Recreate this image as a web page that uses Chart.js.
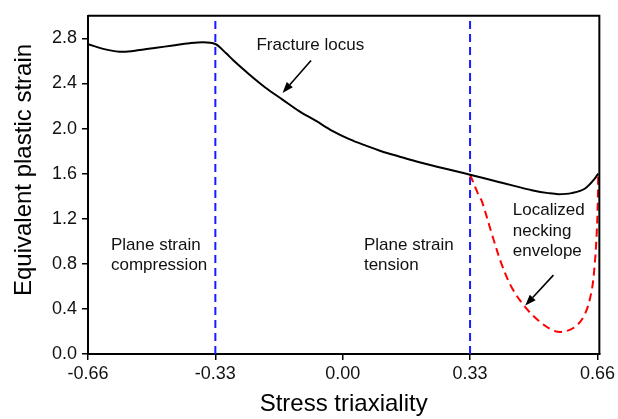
<!DOCTYPE html>
<html>
<head>
<meta charset="utf-8">
<script src="https://cdn.jsdelivr.net/npm/chart.js@4/dist/chart.umd.min.js"></script>
<style>
  html, body { margin: 0; padding: 0; background: #fff; }
  #wrap { width: 618px; height: 419px; }
</style>
</head>
<body>
<div id="wrap"><canvas id="c" width="618" height="419"></canvas></div>
<script>
// Fracture locus: equivalent plastic strain vs. stress triaxiality
const locusX = [-0.66, -0.612, -0.569, -0.526, -0.483, -0.44, -0.397, -0.362, -0.33, -0.302, -0.285,
                -0.242, -0.199, -0.156, -0.113, -0.069, -0.027, 0.017, 0.06, 0.102, 0.146, 0.189,
                0.232, 0.275, 0.33, 0.404, 0.447, 0.49, 0.533, 0.559, 0.593, 0.628, 0.653, 0.662];
const locusY = [2.748, 2.70, 2.68, 2.696, 2.716, 2.737, 2.757, 2.766, 2.75, 2.667, 2.61,
                2.48, 2.36, 2.257, 2.155, 2.067, 1.98, 1.906, 1.848, 1.796, 1.752, 1.71,
                1.672, 1.637, 1.59, 1.526, 1.489, 1.453, 1.427, 1.418, 1.427, 1.468, 1.555, 1.6];

// Localized necking envelope
const neckX = [0.33, 0.352, 0.361, 0.387, 0.412, 0.438, 0.473, 0.507, 0.541, 0.567, 0.602,
               0.628, 0.645, 0.653, 0.658, 0.661, 0.662];
const neckY = [1.59, 1.41, 1.351, 1.059, 0.795, 0.59, 0.415, 0.298, 0.216, 0.196, 0.24,
               0.357, 0.561, 0.795, 1.059, 1.351, 1.58];

// Plane strain compression / tension triaxialities
const planeStrainX = [-0.33, 0.33];
const markerSpan = [0, 3.0];

// Axis ticks
const xTicks = [-0.66, -0.33, 0, 0.33, 0.66];
const xTickLabels = ['-0.66', '-0.33', '0.00', '0.33', '0.66'];
const yTicks = [0, 0.4, 0.8, 1.2, 1.6, 2.0, 2.4, 2.8];
const yTickLabels = ['0.0', '0.4', '0.8', '1.2', '1.6', '2.0', '2.4', '2.8'];

const FONT = "'Liberation Sans', Arial, sans-serif";
const pairs = (xs, ys) => xs.map((x, i) => ({ x: x, y: ys[i] }));

const datasets = [
  {
    label: 'Fracture locus',
    data: pairs(locusX, locusY),
    borderColor: '#000',
    borderWidth: 2,
    pointRadius: 0,
    showLine: true,
    cubicInterpolationMode: 'monotone',
    clip: 4
  },
  {
    label: 'Localized necking envelope',
    data: pairs(neckX, neckY),
    borderColor: '#ff0000',
    borderWidth: 2,
    borderDash: [8, 5],
    pointRadius: 0,
    showLine: true,
    tension: 0.35,
    clip: 4
  }
];
planeStrainX.forEach(function (x) {
  datasets.push({
    label: 'Plane strain ' + x,
    data: markerSpan.map(function (y) { return { x: x, y: y }; }),
    borderColor: '#1a1aff',
    borderWidth: 2,
    borderDash: [8, 5],
    pointRadius: 0,
    showLine: true,
    clip: 2
  });
});

// Annotation texts and arrows, placed in data coordinates
const notes = [
  { lines: ['Fracture locus'], x: -0.084, y: 2.737, align: 'center' },
  { lines: ['Plane strain', 'compression'], x: -0.6006, y: 0.965, align: 'left' },
  { lines: ['Plane strain', 'tension'], x: 0.055, y: 0.965, align: 'left' },
  { lines: ['Localized', 'necking', 'envelope'], x: 0.4407, y: 1.272, align: 'left' }
];
const arrows = [
  { from: [-0.082, 2.603], to: [-0.156, 2.316] },
  { from: [0.546, 0.70], to: [0.473, 0.43] }
];

const decor = {
  id: 'decor',
  afterDatasetsDraw(chart) {
    const ctx = chart.ctx;
    const a = chart.chartArea;
    const xs = chart.scales.x, ys = chart.scales.y;
    ctx.save();
    // top and right frame
    ctx.strokeStyle = '#000';
    ctx.lineWidth = 2;
    ctx.beginPath();
    ctx.moveTo(a.left, a.top);
    ctx.lineTo(a.right, a.top);
    ctx.lineTo(a.right, a.bottom);
    ctx.stroke();

    // notes
    ctx.fillStyle = '#111';
    ctx.font = '17px ' + FONT;
    ctx.textBaseline = 'middle';
    notes.forEach(function (n) {
      ctx.textAlign = n.align;
      const px = xs.getPixelForValue(n.x);
      const py = ys.getPixelForValue(n.y);
      n.lines.forEach(function (t, i) {
        ctx.fillText(t, px, py + i * 20.5);
      });
    });

    // arrows
    ctx.strokeStyle = '#000';
    ctx.fillStyle = '#000';
    ctx.lineWidth = 1.6;
    arrows.forEach(function (ar) {
      const x0 = xs.getPixelForValue(ar.from[0]), y0 = ys.getPixelForValue(ar.from[1]);
      const x1 = xs.getPixelForValue(ar.to[0]), y1 = ys.getPixelForValue(ar.to[1]);
      const ang = Math.atan2(y1 - y0, x1 - x0);
      const hl = 11, hw = 4;
      const bx = x1 - hl * Math.cos(ang), by = y1 - hl * Math.sin(ang);
      ctx.beginPath();
      ctx.moveTo(x0, y0);
      ctx.lineTo(bx, by);
      ctx.stroke();
      ctx.beginPath();
      ctx.moveTo(x1, y1);
      ctx.lineTo(bx + hw * Math.sin(ang), by - hw * Math.cos(ang));
      ctx.lineTo(bx - hw * Math.sin(ang), by + hw * Math.cos(ang));
      ctx.closePath();
      ctx.fill();
    });

    // axis titles
    ctx.fillStyle = '#000';
    ctx.font = '24px ' + FONT;
    ctx.textAlign = 'center';
    ctx.textBaseline = 'middle';
    ctx.fillText('Stress triaxiality', (a.left + a.right) / 2, 404);
    ctx.translate(24, 170);
    ctx.rotate(-Math.PI / 2);
    ctx.fillText('Equivalent plastic strain', 0, 0);
    ctx.restore();
  }
};

new Chart(document.getElementById('c'), {
  type: 'scatter',
  data: { datasets: datasets },
  plugins: [decor],
  options: {
    responsive: false,
    animation: false,
    layout: { padding: { top: 11, right: 17, left: 0, bottom: 0 } },
    plugins: { legend: { display: false }, tooltip: { enabled: false } },
    scales: {
      x: {
        type: 'linear',
        min: -0.66,
        max: 0.665,
        afterBuildTicks: function (s) { s.ticks = xTicks.map(function (v) { return { value: v }; }); },
        afterFit: function (s) { s.height = 65; },
        ticks: {
          autoSkip: false,
          maxRotation: 0,
          padding: 3,
          color: '#111',
          font: { family: FONT, size: 18 },
          callback: function (v) { const i = xTicks.indexOf(v); return i >= 0 ? xTickLabels[i] : ''; }
        },
        grid: { drawOnChartArea: false, drawTicks: true, tickLength: 6, color: '#000', lineWidth: 1.5 },
        border: { display: true, color: '#000', width: 2 }
      },
      y: {
        type: 'linear',
        min: 0,
        max: 3.0,
        afterBuildTicks: function (s) { s.ticks = yTicks.map(function (v) { return { value: v }; }); },
        afterFit: function (s) { s.width = 88; },
        ticks: {
          padding: 5,
          color: '#111',
          font: { family: FONT, size: 18 },
          callback: function (v) {
            const i = yTicks.findIndex(function (t) { return Math.abs(t - v) < 1e-9; });
            return i >= 0 ? yTickLabels[i] : '';
          }
        },
        grid: { drawOnChartArea: false, drawTicks: true, tickLength: 6, color: '#000', lineWidth: 1.5 },
        border: { display: true, color: '#000', width: 2 }
      }
    }
  }
});
</script>
</body>
</html>
